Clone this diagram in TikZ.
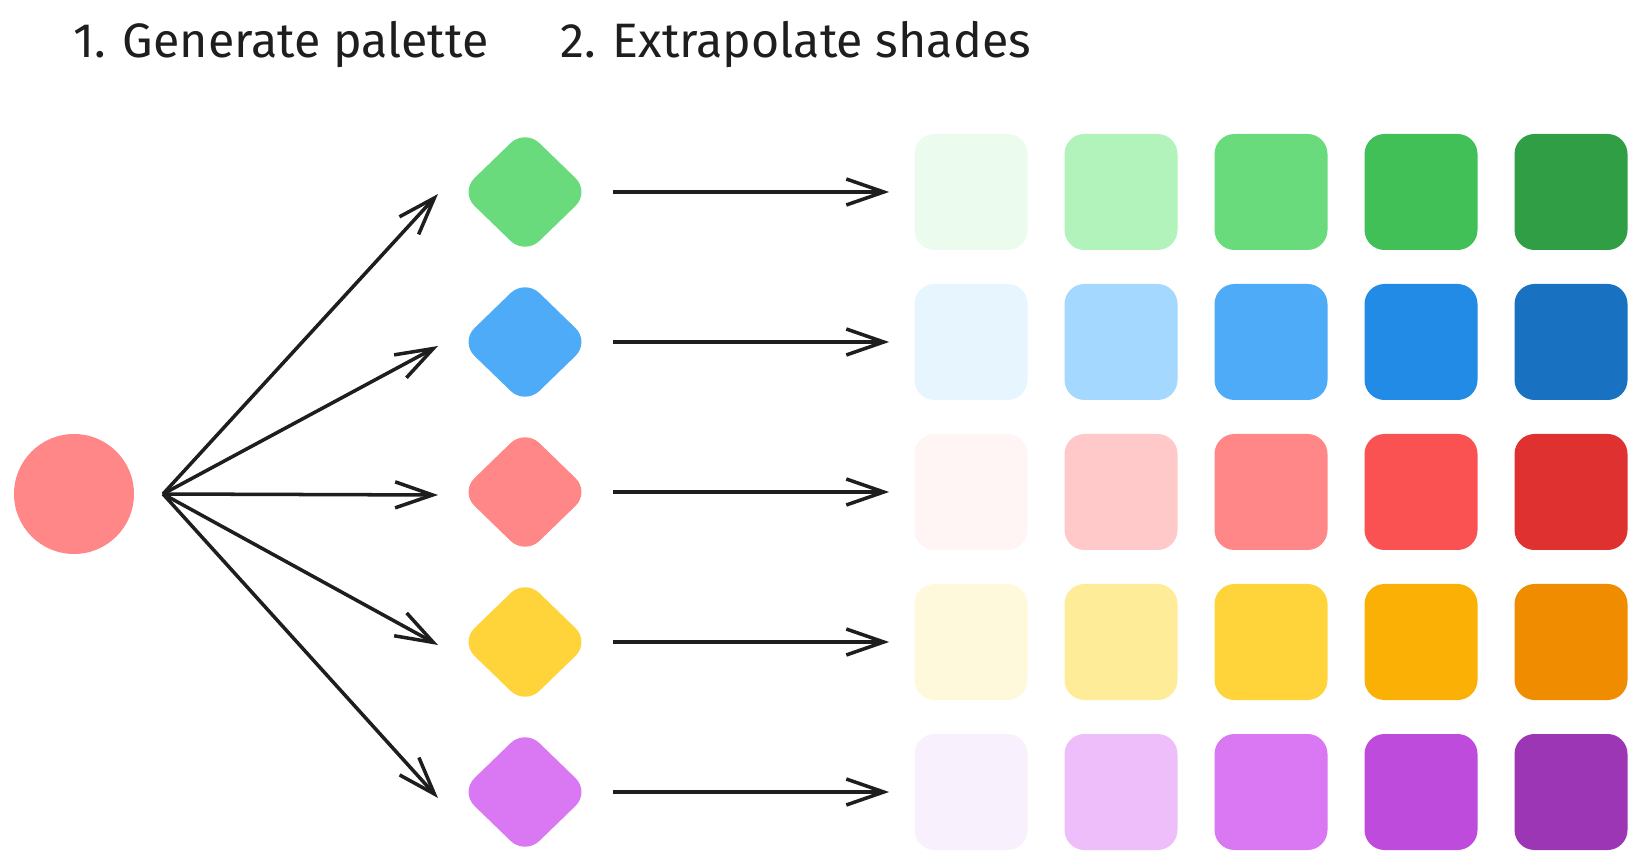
\documentclass[tikz,border=0pt]{standalone}
\usepackage{fontspec}
\setmainfont{Fira Sans}
\usetikzlibrary{arrows.meta,shapes.geometric}

\definecolor{inkDark}{HTML}{1E1E1E}
\definecolor{greenA}{HTML}{EBFBEE}
\definecolor{greenB}{HTML}{B2F2BB}
\definecolor{greenC}{HTML}{69DB7C}
\definecolor{greenD}{HTML}{40C057}
\definecolor{greenE}{HTML}{2F9E44}
\definecolor{blueA}{HTML}{E7F5FF}
\definecolor{blueB}{HTML}{A5D8FF}
\definecolor{blueC}{HTML}{4DABF7}
\definecolor{blueD}{HTML}{228BE6}
\definecolor{blueE}{HTML}{1971C2}
\definecolor{redA}{HTML}{FFF5F5}
\definecolor{redB}{HTML}{FFC9C9}
\definecolor{redC}{HTML}{FF8787}
\definecolor{redD}{HTML}{FA5252}
\definecolor{redE}{HTML}{E03131}
\definecolor{yellowA}{HTML}{FFF9DB}
\definecolor{yellowB}{HTML}{FFEC99}
\definecolor{yellowC}{HTML}{FFD43B}
\definecolor{yellowD}{HTML}{FAB005}
\definecolor{yellowE}{HTML}{F08C00}
\definecolor{grapeA}{HTML}{F8F0FC}
\definecolor{grapeB}{HTML}{EEBEFA}
\definecolor{grapeC}{HTML}{DA77F2}
\definecolor{grapeD}{HTML}{BE4BDB}
\definecolor{grapeE}{HTML}{9C36B5}

\begin{document}
\begin{tikzpicture}[scale=1.0,
baseDot/.style={circle, fill=redC, minimum size=24mm, inner sep=0pt},
palDiamond/.style={diamond, minimum width=26mm, minimum height=25.2mm, inner sep=0pt, rounded corners=4mm},
shadeBox/.style={rectangle, minimum width=22.6mm, minimum height=23.2mm, inner sep=0pt, rounded corners=4mm},
fanArrow/.style={-{Straight Barb[length=7.5mm,width=5.2mm]}, line width=2pt, color=inkDark},
rowArrow/.style={-{Straight Barb[length=7.5mm,width=5.2mm]}, line width=2pt, color=inkDark, shorten <=4.5mm, shorten >=5mm},
stepLabel/.style={anchor=west, inner sep=0pt, text=inkDark, font=\fontsize{27.5}{32}\selectfont}]

\useasboundingbox[fill=white] (0,0) rectangle (32.86,17.26);

\node[stepLabel] (titlePalette) at (1.46, 16.36) {1. Generate palette};
\node[stepLabel] (titleShades) at (11.2, 16.36) {2. Extrapolate shades};

\node[baseDot] (base) at (1.48, 7.38) {};
\coordinate (fan) at (3.26, 7.38);

\node[palDiamond, fill=greenC] (palGreen) at (10.5, 13.42) {};
\node[palDiamond, fill=blueC] (palBlue) at (10.5, 10.42) {};
\node[palDiamond, fill=redC] (palRed) at (10.5, 7.42) {};
\node[palDiamond, fill=yellowC] (palYellow) at (10.5, 4.42) {};
\node[palDiamond, fill=grapeC] (palGrape) at (10.5, 1.42) {};

\coordinate (tipGreen) at (8.76, 13.38);
\coordinate (tipBlue) at (8.76, 10.34);
\coordinate (tipRed) at (8.76, 7.36);
\coordinate (tipYellow) at (8.76, 4.36);
\coordinate (tipGrape) at (8.76, 1.30);

\node[shadeBox, fill=greenA] (greenOne) at (19.42, 13.42) {};
\node[shadeBox, fill=greenB] (greenTwo) at (22.42, 13.42) {};
\node[shadeBox, fill=greenC] (greenThree) at (25.42, 13.42) {};
\node[shadeBox, fill=greenD] (greenFour) at (28.42, 13.42) {};
\node[shadeBox, fill=greenE] (greenFive) at (31.42, 13.42) {};

\node[shadeBox, fill=blueA] (blueOne) at (19.42, 10.42) {};
\node[shadeBox, fill=blueB] (blueTwo) at (22.42, 10.42) {};
\node[shadeBox, fill=blueC] (blueThree) at (25.42, 10.42) {};
\node[shadeBox, fill=blueD] (blueFour) at (28.42, 10.42) {};
\node[shadeBox, fill=blueE] (blueFive) at (31.42, 10.42) {};

\node[shadeBox, fill=redA] (redOne) at (19.42, 7.42) {};
\node[shadeBox, fill=redB] (redTwo) at (22.42, 7.42) {};
\node[shadeBox, fill=redC] (redThree) at (25.42, 7.42) {};
\node[shadeBox, fill=redD] (redFour) at (28.42, 7.42) {};
\node[shadeBox, fill=redE] (redFive) at (31.42, 7.42) {};

\node[shadeBox, fill=yellowA] (yellowOne) at (19.42, 4.42) {};
\node[shadeBox, fill=yellowB] (yellowTwo) at (22.42, 4.42) {};
\node[shadeBox, fill=yellowC] (yellowThree) at (25.42, 4.42) {};
\node[shadeBox, fill=yellowD] (yellowFour) at (28.42, 4.42) {};
\node[shadeBox, fill=yellowE] (yellowFive) at (31.42, 4.42) {};

\node[shadeBox, fill=grapeA] (grapeOne) at (19.42, 1.42) {};
\node[shadeBox, fill=grapeB] (grapeTwo) at (22.42, 1.42) {};
\node[shadeBox, fill=grapeC] (grapeThree) at (25.42, 1.42) {};
\node[shadeBox, fill=grapeD] (grapeFour) at (28.42, 1.42) {};
\node[shadeBox, fill=grapeE] (grapeFive) at (31.42, 1.42) {};


 \path 	(fan) 		edge[fanArrow] 		node {} (tipGreen)
			(fan) 		edge[fanArrow] 		node {} (tipBlue)
			(fan) 		edge[fanArrow] 		node {} (tipRed)
			(fan) 		edge[fanArrow] 		node {} (tipYellow)
			(fan) 		edge[fanArrow] 		node {} (tipGrape);

 \path 	(palGreen.east) 	edge[rowArrow] 		node {} (greenOne.west)
			(palBlue.east) 		edge[rowArrow] 		node {} (blueOne.west)
			(palRed.east) 		edge[rowArrow] 		node {} (redOne.west)
			(palYellow.east) 	edge[rowArrow] 		node {} (yellowOne.west)
			(palGrape.east) 	edge[rowArrow] 		node {} (grapeOne.west);


\end{tikzpicture}
\end{document}
